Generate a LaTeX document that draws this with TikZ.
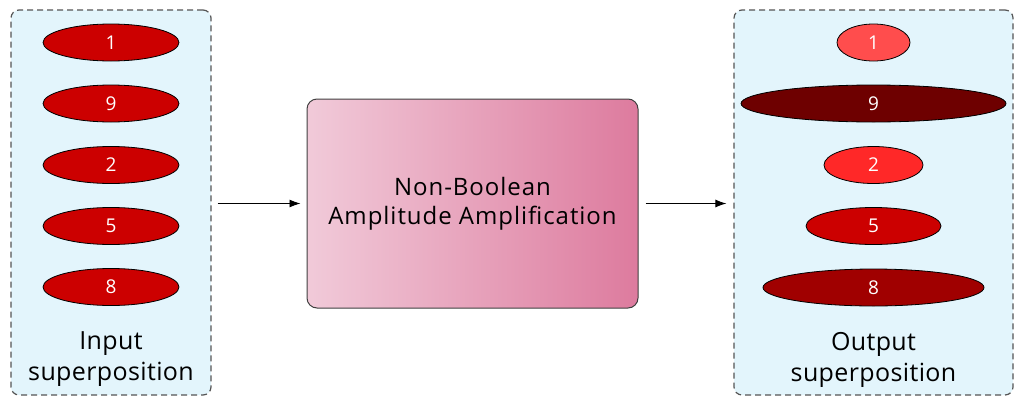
\documentclass[tikz,border=0pt]{standalone}
\usepackage{fontspec}
\setmainfont{Open Sans}
\usetikzlibrary{shapes.geometric,arrows.meta}
\definecolor{panelfill}{RGB}{227,245,252}
\definecolor{panelline}{RGB}{85,85,85}
\definecolor{redA}{RGB}{204,0,0}
\definecolor{redLight}{RGB}{255,77,77}
\definecolor{redMid}{RGB}{255,40,40}
\definecolor{redDark}{RGB}{110,0,0}
\definecolor{redDeep}{RGB}{160,0,0}
\definecolor{gradL}{RGB}{241,202,217}
\definecolor{gradR}{RGB}{221,123,158}
\tikzset{
  panel/.style={draw=panelline, fill=panelfill, dashed, dash pattern=on 6pt off 4pt, line width=1.2pt, rounded corners=8pt},
  amp/.style={ellipse, draw=black, line width=0.8pt, minimum height=37pt, inner sep=0pt, text=white, font=\fontsize{19}{19}\selectfont},
  lbl/.style={align=center, font=\fontsize{25}{31}\selectfont\addfontfeatures{LetterSpace=1.5}},
  proc/.style={draw=black!75, line width=1pt, rounded corners=10pt, left color=gradL, right color=gradR, align=center, font=\fontsize{24}{29}\selectfont\addfontfeatures{LetterSpace=4}},
  flow/.style={-{Latex[length=11pt,width=8pt]}, line width=0.9pt}
}
\begin{document}
\begin{tikzpicture}[x=1pt,y=-1pt]
\useasboundingbox (0,0) rectangle (1024,407);
% panels
\node[panel, minimum width=200pt, minimum height=385pt, inner sep=0pt] (inp) at (111,202.5) {};
\node[panel, minimum width=279pt, minimum height=385pt, inner sep=0pt] (outp) at (873.5,202.5) {};
% input ellipses
\node[amp, fill=redA, minimum width=136pt] (i1) at (111,42.5) {1};
\node[amp, fill=redA, minimum width=136pt] (i9) at (111,103.5) {9};
\node[amp, fill=redA, minimum width=136pt] (i2) at (111,165) {2};
\node[amp, fill=redA, minimum width=136pt] (i5) at (111,226) {5};
\node[amp, fill=redA, minimum width=136pt] (i8) at (111,287) {8};
\node[lbl] (inlbl) at (111,359.5) {Input\\superposition};
% output ellipses
\node[amp, fill=redLight, minimum width=73pt] (o1) at (873.5,42.5) {1};
\node[amp, fill=redDark, minimum width=265pt] (o9) at (873.5,103.5) {9};
\node[amp, fill=redMid, minimum width=99pt] (o2) at (873.5,165) {2};
\node[amp, fill=redA, minimum width=135pt] (o5) at (873.5,226) {5};
\node[amp, fill=redDeep, minimum width=221pt] (o8) at (873.5,287.5) {8};
\node[lbl] (outlbl) at (873.5,359.5) {Output\\superposition};
% process
\node[proc, minimum width=331pt, minimum height=209pt] (proc) at (472.5,203.5) {Non-Boolean\\Amplitude Amplification};
% arrows
\draw[flow] ([xshift=6pt]inp.east |- proc.west) -- ([xshift=-6pt]proc.west);
\draw[flow] ([xshift=7pt]proc.east) -- ([xshift=-7pt]outp.west |- proc.east);
\end{tikzpicture}
\end{document}
